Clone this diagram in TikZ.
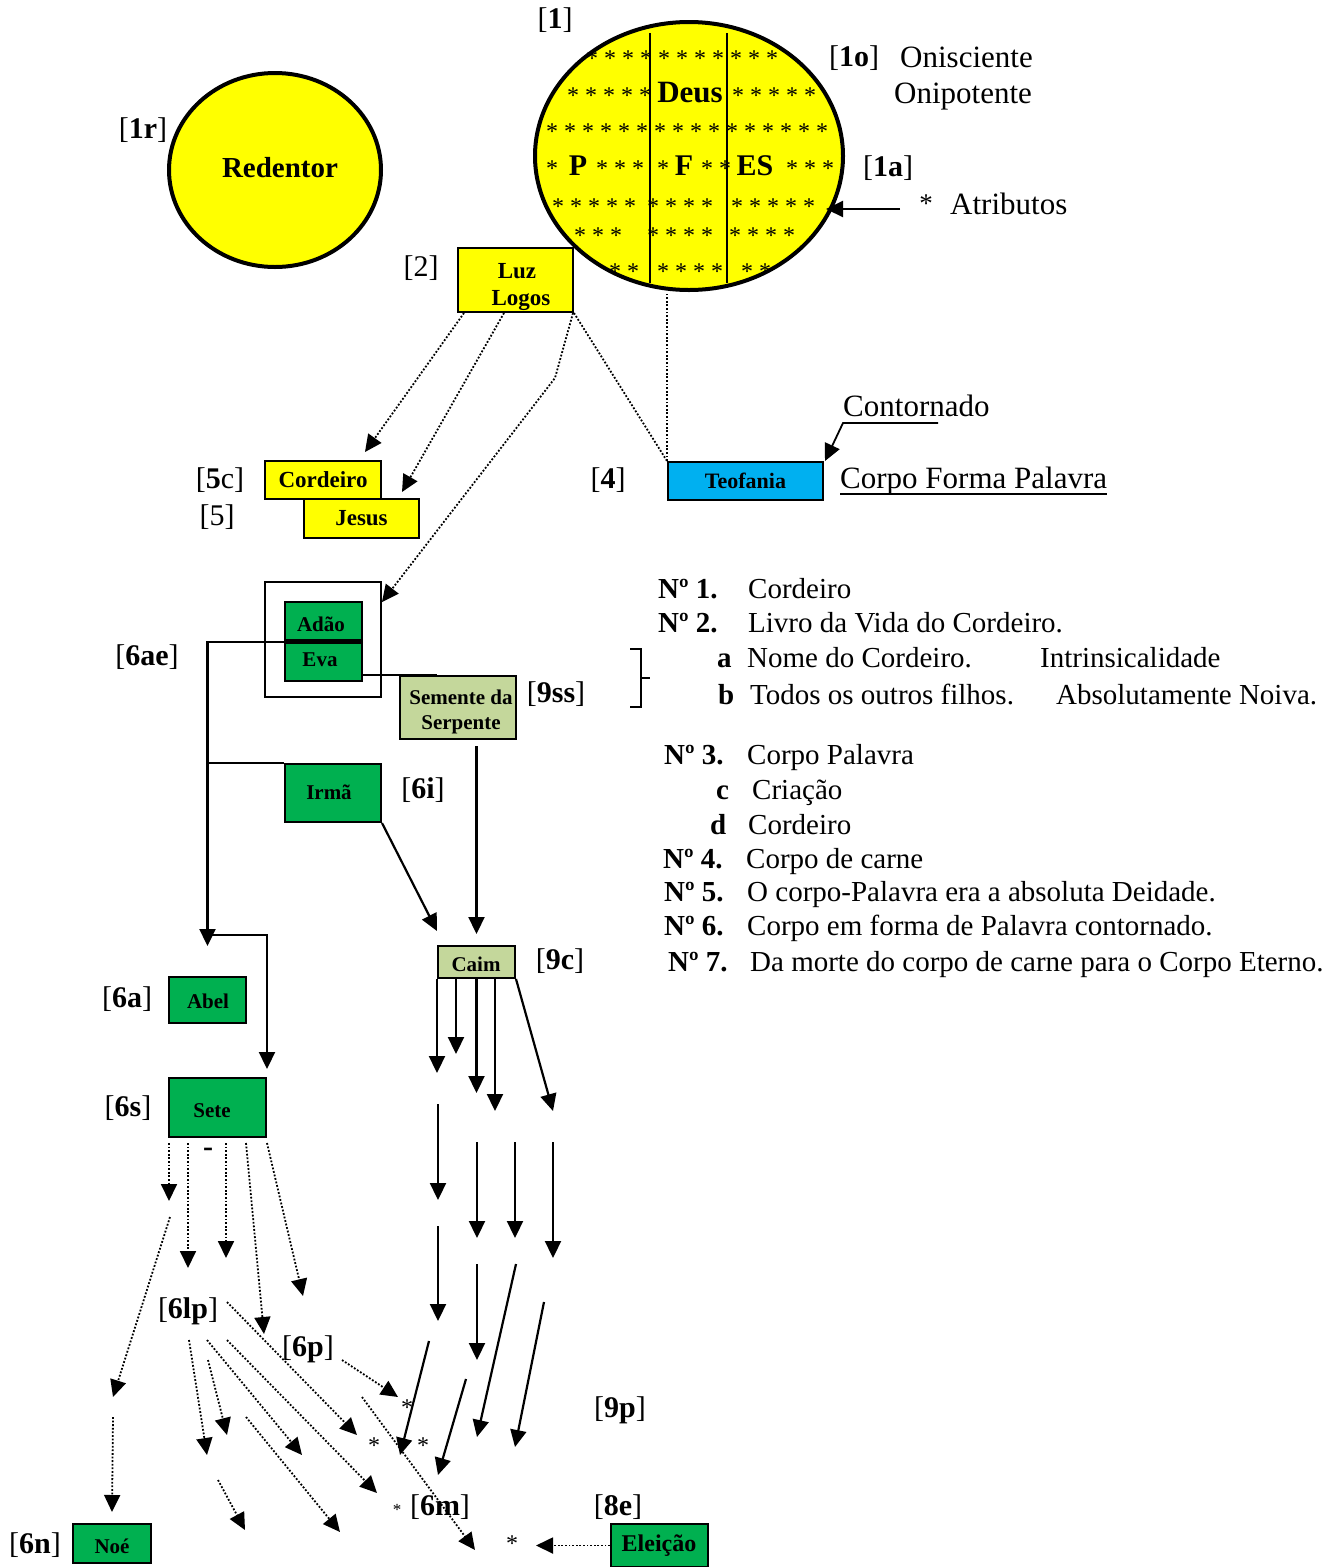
\documentclass[tikz,border=0pt]{standalone}
\usepackage{fontspec}
\setmainfont{Liberation Serif}
\usetikzlibrary{arrows.meta,shapes.geometric}
\definecolor{yel}{RGB}{255,255,0}
\definecolor{grn}{RGB}{0,176,80}
\definecolor{lgr}{RGB}{196,215,155}
\definecolor{cyb}{RGB}{0,176,240}
\newcommand\fsz[2]{\fontsize{#1}{#2}\selectfont}
\newcommand\stars[4]{\foreach \k in {1,...,#3}{\node[astk] (s#4\k) at ({#1+18*(\k-1)},#2) {*};}}
\begin{document}
\begin{tikzpicture}[x=1pt,y=-1pt,
  bx/.style={draw=black,line width=2pt,inner sep=0pt,align=center,font=\bfseries\fsz{21}{27}},
  bt/.style={inner sep=0pt,font=\bfseries\fsz{21}{27}},
  lb/.style={inner sep=0pt,font=\fsz{30}{36}},
  tx/.style={inner sep=0pt,anchor=base west,font=\fsz{29}{35}},
  tb/.style={inner sep=0pt,anchor=base west,font=\bfseries\fsz{29}{35}},
  astk/.style={inner sep=0pt,anchor=base,font=\fsz{24}{28}},
  sl/.style={line width=2.2pt},
  dl/.style={line width=1.8pt,dash pattern=on 1.8pt off 1.8pt},
  arr/.style={-{Triangle[length=17pt,width=16pt]}},
]
\useasboundingbox (0,0) rectangle (1343,1567);

% ---------- big circles ----------
\node[ellipse,draw,line width=4pt,fill=yel,minimum width=308pt,minimum height=268pt,inner sep=0pt] (deus) at (689,156) {};
\node[ellipse,draw,line width=4pt,fill=yel,minimum width=212pt,minimum height=194pt,inner sep=0pt] (red) at (275,170) {};
\node[inner sep=0pt,font=\bfseries\fsz{29}{34}] (redT) at (280,168) {Redentor};

\draw[line width=2pt] (650,33) -- (650,283);
\draw[line width=2pt] (727,33) -- (727,283);

% stars inside Deus
\stars{592}{66}{11}{a}
\stars{573}{103}{5}{b}
\stars{738}{103}{5}{c}
\stars{552}{139}{16}{d}
\stars{552}{176}{1}{e}
\stars{602}{176}{3}{f}
\stars{663}{176}{1}{g}
\stars{707}{176}{2}{h}
\stars{792}{176}{3}{i}
\stars{558}{214}{5}{j}
\stars{653}{214}{4}{k}
\stars{737}{214}{5}{l}
\stars{580}{243}{3}{m}
\stars{653}{243}{4}{n}
\stars{735}{243}{4}{o}
\stars{615}{279}{2}{p}
\stars{663}{279}{4}{q}
\stars{747}{279}{2}{r}
\node[inner sep=0pt,font=\bfseries\fsz{31}{36}] (deusT) at (690,93) {Deus};
\node[inner sep=0pt,font=\bfseries\fsz{30}{36}] (pT) at (578,166) {P};
\node[inner sep=0pt,font=\bfseries\fsz{30}{36}] (fT) at (684,166) {F};
\node[inner sep=0pt,font=\bfseries\fsz{30}{36}] (esT) at (755,166) {ES};

% ---------- labels ----------
\node[lb] (l1) at (555,20) {[\textbf{1}]};
\node[lb] (l1o) at (854,58) {[\textbf{1o}]};
\node[tx,font=\fsz{31}{36}] (onis) at (900,67) {Onisciente};
\node[tx,font=\fsz{31}{36}] (onip) at (894,103) {Onipotente};
\node[lb] (l1a) at (888,168) {[\textbf{1a}]};
\node[astk,font=\fsz{27}{30}] (stAt) at (926,212) {*};
\node[tx,font=\fsz{31}{36}] (atrib) at (950,214) {Atributos};
\node[lb] (l1r) at (143,130) {[\textbf{1r}]};
\node[lb] (l2) at (421,268) {[2]};
\node[lb] (l5c) at (220,480) {[\textbf{5}c]};
\node[lb] (l5) at (217,517) {[5]};
\node[lb] (l4) at (608,480) {[\textbf{4}]};
\node[tx,font=\fsz{31}{36}] (cont) at (843,416) {Contornado};
\node[tx,font=\fsz{31}{36}] (cfp) at (840,488) {Corpo Forma Palavra};
\node[lb] (l6ae) at (147,657) {[\textbf{6ae}]};
\node[lb] (l9ss) at (556,694) {[\textbf{9ss}]};
\node[lb] (l6i) at (423,790) {[\textbf{6i}]};
\node[lb] (l9c) at (560,961) {[\textbf{9c}]};
\node[lb] (l6a) at (127,999) {[\textbf{6a}]};
\node[lb] (l6s) at (128,1108) {[\textbf{6s}]};
\node[lb] (l6lp) at (188,1311) {[\textbf{6lp}]};
\node[lb] (l6p) at (308,1349) {[\textbf{6p}]};
\node[lb] (l9p) at (620,1410) {[\textbf{9p}]};
\node[lb] (l6m) at (440,1507) {[\textbf{6m}]};
\node[lb] (l8e) at (618,1507) {[\textbf{8e}]};
\node[lb] (l6n) at (35,1545) {[\textbf{6n}]};
\node[inner sep=0pt,anchor=base,font=\bfseries\fsz{30}{36}] (dash) at (208,1156) {-};
\node[astk] (x1) at (407,1415) {*};
\node[astk] (x2) at (374,1453) {*};
\node[astk] (x3) at (423,1453) {*};
\node[astk,font=\fsz{17}{20}] (x4) at (397,1515) {*};
\node[astk] (x5) at (512,1551) {*};

% ---------- list ----------
\node[tb] (n1) at (658,598) {Nº 1.};
\node[tx] (t1) at (748,598) {Cordeiro};
\node[tb] (n2) at (658,632) {Nº 2.};
\node[tx] (t2) at (748,632) {Livro da Vida do Cordeiro.};
\node[tb] (na) at (717,667) {a};
\node[tx] (ta) at (747,667) {Nome do Cordeiro.};
\node[tx] (ta2) at (1040,667) {Intrinsicalidade};
\node[tb] (nb) at (718,704) {b};
\node[tx] (tb1) at (750,704) {Todos os outros filhos.};
\node[tx] (tb2) at (1056,704) {Absolutamente Noiva.};
\node[tb] (n3) at (664,764) {Nº 3.};
\node[tx] (t3) at (747,764) {Corpo Palavra};
\node[tb] (nc) at (716,799) {c};
\node[tx] (tc) at (752,799) {Criação};
\node[tb] (nd) at (710,834) {d};
\node[tx] (td) at (748,834) {Cordeiro};
\node[tb] (n4) at (663,868) {Nº 4.};
\node[tx] (t4) at (746,868) {Corpo de carne};
\node[tb] (n5) at (664,901) {Nº 5.};
\node[tx] (t5) at (747,901) {O corpo-Palavra era a absoluta Deidade.};
\node[tb] (n6) at (664,935) {Nº 6.};
\node[tx] (t6) at (747,935) {Corpo em forma de Palavra contornado.};
\node[tb] (n7) at (668,971) {Nº 7.};
\node[tx] (t7) at (750,971) {Da morte do corpo de carne para o Corpo Eterno.};
\draw[line width=1.8pt] (630,649) -- (641,649) -- (641,707) -- (630,707);
\draw[line width=1.8pt] (641,678) -- (650,678);

% ---------- boxes ----------
\node[bx,fill=yel,minimum width=115pt,minimum height=64pt] (luz) at (515.5,280) {};
\node[bt,font=\bfseries\fsz{23}{28}] (luzT1) at (517,271) {Luz};
\node[bt,font=\bfseries\fsz{23}{28}] (luzT2) at (521,301) {Logos};
\node[bx,fill=yel,minimum width=116pt,minimum height=38pt,font=\bfseries\fsz{23}{28}] (cord) at (323,480) {Cordeiro};
\node[bx,fill=yel,minimum width=115pt,minimum height=39pt,font=\bfseries\fsz{23}{28}] (jes) at (361.5,518.5) {Jesus};
\node[bx,fill=cyb,minimum width=155pt,minimum height=38pt,font=\bfseries\fsz{22}{28}] (teo) at (745.5,481) {Teofania};
\node[draw,line width=1.8pt,minimum width=116pt,minimum height=115pt,inner sep=0pt] (outer) at (323,639.5) {};
\node[bx,fill=grn,minimum width=77pt,minimum height=38pt] (adao) at (323.5,621) {};
\node[bt] (adaoT) at (321,624) {Adão};
\node[bx,fill=grn,minimum width=77pt,minimum height=38pt] (eva) at (323.5,662) {};
\node[bt] (evaT) at (320,660) {Eva};
\node[bx,fill=lgr,minimum width=116pt,minimum height=63pt] (sem) at (458,707.5) {};
\node[bt] (semT1) at (461,697) {Semente da};
\node[bt] (semT2) at (461,725) {Serpente};
\node[bx,fill=grn,minimum width=96pt,minimum height=58pt] (irma) at (333,793) {};
\node[bt] (irmaT) at (329,792) {Irmã};
\node[bx,fill=lgr,minimum width=77pt,minimum height=32pt] (caim) at (476.5,962) {};
\node[bt] (caimT) at (476,964) {Caim};
\node[bx,fill=grn,minimum width=77pt,minimum height=46pt] (abel) at (207.5,1000) {};
\node[bt] (abelT) at (208,1001) {Abel};
\node[bx,fill=grn,minimum width=97pt,minimum height=59pt] (sete) at (217.5,1107.5) {};
\node[bt] (seteT) at (212,1111) {Sete};
\node[bx,fill=grn,minimum width=78pt,minimum height=39pt] (noe) at (112,1543.5) {};
\node[bt] (noeT) at (112,1546) {Noé};
\node[bx,fill=grn,minimum width=97pt,minimum height=43pt] (ele) at (659.5,1545.5) {};
\node[bt,font=\bfseries\fsz{24}{28}] (eleT) at (659,1546) {Eleição};

% ---------- connectors top ----------
\coordinate (cA) at (365,452);
\coordinate (cB) at (402,492);
\coordinate (cK) at (555,378);
\draw[dl,arr] ([xshift=7pt]luz.south west) -- (cA);
\draw[dl,arr] ([xshift=47pt]luz.south west) -- (cB);
\draw[dl,arr] ([xshift=-1pt]luz.south east) -- (cK) -- ([yshift=-21pt]outer.north east);
\draw[dl] (luz.south east) -- (teo.north west);
\draw[dl] (teo.north west) -- (teo.north west |- deus.south);
\draw[line width=1.8pt,arr] ([yshift=-7pt,xshift=95pt]cont.base west) -- ([yshift=-7pt]cont.base west) -- ([xshift=1pt]teo.north east);
\draw[line width=1.8pt] ([yshift=-6pt]cfp.base west) -- ([yshift=-6pt]cfp.base east);
\coordinate (at1) at (900,209);
\coordinate (at2) at (826,209);
\draw[sl,arr] (at1) -- (at2);

% ---------- family ----------
\draw[sl] (eva.east |- sem.north) -- ([xshift=38pt]sem.north west);
\draw[sl,arr] (eva.north east) -- (eva.north east -| abel.north) -- ([yshift=30pt]abel.north);
\draw[sl] (irma.north west) -- (irma.north west -| abel.north);
\draw[sl,arr] ([yshift=41pt]abel.north) -- ([yshift=41pt]abel.north -| sete.north east) -- ([yshift=8pt]sete.north east);
\draw[sl,arr] (irma.south east) -- ([yshift=14pt]caim.north west);
\draw[sl,arr] ([yshift=-6pt]caim.north |- sem.south) -- ([yshift=11pt]caim.north);

% ---------- Caim fan ----------
\draw[sl,arr] (caim.south west) -- ++(0,94);
\draw[sl,arr] ([xshift=19pt]caim.south west) -- ++(0,75);
\draw[sl,arr] (caim.south) -- ++(0,114);
\draw[sl,arr] ([xshift=58pt]caim.south west) -- ++(0,132);
\draw[sl,arr] (caim.south east) -- ++(37,132);
\foreach \a/\b/\c/\d [count=\i] in {438/1104/438/1200, 477/1142/477/1238, 515/1142/515/1238, 553/1142/553/1258, 438/1226/438/1321, 477/1264/477/1360, 516/1264/477/1437, 544/1302/515/1447, 429/1341/400/1455, 466/1379/438/1475}{
  \coordinate (ka\i) at (\a,\b);
  \coordinate (kb\i) at (\c,\d);
  \draw[sl,arr] (ka\i) -- (kb\i);
}

% ---------- Sete fan ----------
\draw[dl,arr] ([xshift=1pt,yshift=-5pt]sete.south west) -- ++(0,58);
\draw[dl,arr] ([xshift=20pt,yshift=-5pt]sete.south west) -- ++(0,125);
\draw[dl,arr] ([xshift=58pt,yshift=-5pt]sete.south west) -- ++(0,115);
\draw[dl,arr] ([xshift=78pt,yshift=-5pt]sete.south west) -- ++(18,191);
\draw[dl,arr] ([yshift=-5pt]sete.south east) -- ++(36,153);
\foreach \a/\b/\c/\d [count=\i] in {170/1217/113/1397, 189/1340/207/1455, 208/1360/227/1435, 207/1340/302/1455, 227/1340/377/1493, 227/1302/357/1435, 246/1417/340/1532, 218/1480/245/1530, 342/1360/398/1397, 362/1397/475/1550}{
  \coordinate (da\i) at (\a,\b);
  \coordinate (db\i) at (\c,\d);
  \draw[dl,arr] (da\i) -- (db\i);
}
\coordinate (nn) at (113,1417);
\draw[dl,arr] (nn) -- ([yshift=11pt]noe.north);
\draw[dl,arr] (ele.west) -- ++(-74,0);
\end{tikzpicture}
\end{document}
